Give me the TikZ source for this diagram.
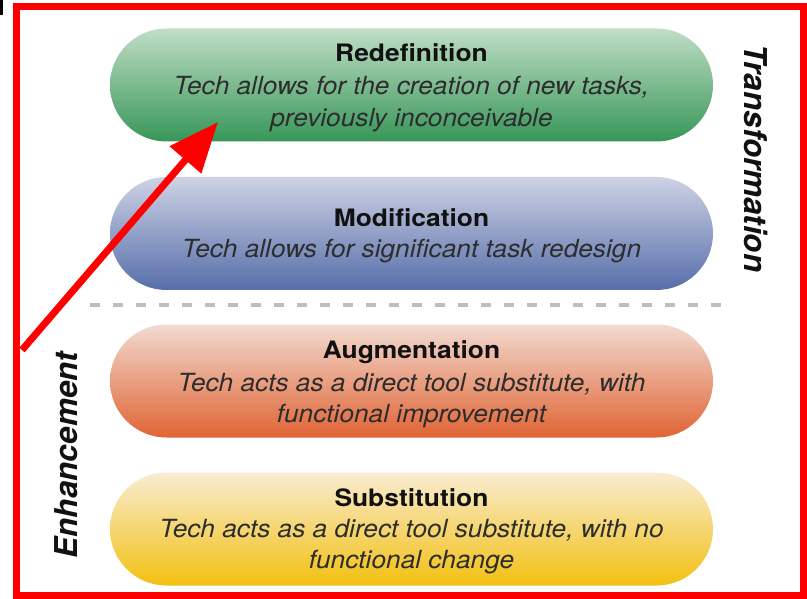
\documentclass[tikz,border=0pt]{standalone}
\usepackage{fontspec}
\usepackage{graphicx}
\setmainfont{TeX Gyre Heros}
\usetikzlibrary{arrows.meta}
\definecolor{framered}{RGB}{255,0,0}
\definecolor{gtop}{RGB}{192,222,198}
\definecolor{gbot}{RGB}{55,150,88}
\definecolor{btop}{RGB}{206,210,228}
\definecolor{bbot}{RGB}{86,110,170}
\definecolor{otop}{RGB}{242,218,208}
\definecolor{obot}{RGB}{224,100,52}
\definecolor{ytop}{RGB}{249,236,210}
\definecolor{ybot}{RGB}{242,192,16}
\definecolor{ttlcol}{RGB}{17,17,17}
\definecolor{bodycol}{RGB}{45,45,45}
\definecolor{dashgray}{RGB}{190,190,190}
\newcommand\wideT[1]{\scalebox{1.10}[1]{#1}}
\newcommand\wideB[1]{\scalebox{1.05}[1]{#1}}
\begin{document}
\begin{tikzpicture}[x=1pt,y=-1pt,
  pill/.style={rectangle, rounded corners=56.5pt, minimum width=603pt, minimum height=113pt, inner sep=0pt, draw=none},
  ttl/.style={anchor=base, inner sep=0pt, text=ttlcol, font=\fontsize{24}{28}\selectfont\bfseries},
  body/.style={anchor=base, inner sep=0pt, text=bodycol, font=\fontsize{25}{30}\selectfont\itshape},
  side/.style={inner sep=0pt, text=ttlcol, font=\fontsize{31.5}{36}\selectfont\bfseries\itshape}]
\useasboundingbox (0,0) rectangle (807,599);
\fill[white] (0,0) rectangle (807,599);
\fill[black] (0,0) rectangle (3,15);
% pills
\node[pill, top color=gtop, bottom color=gbot] (redef) at (411.5,85) {};
\node[pill, top color=btop, bottom color=bbot] (modif) at (411.5,233.5) {};
\node[pill, top color=otop, bottom color=obot] (augm) at (411.5,381) {};
\node[pill, top color=ytop, bottom color=ybot] (subs) at (411.5,529) {};
% texts
\node[ttl] (redefT) at (411.5,62) {\wideT{Redefinition}};
\node[body] (redefA) at (411.5,95) {\wideB{Tech allows for the creation of new tasks,}};
\node[body] (redefB) at (411.5,127) {\wideB{previously inconceivable}};
\node[ttl] (modifT) at (411.5,227) {\wideT{Modification}};
\node[body] (modifA) at (411.5,258) {\wideB{Tech allows for significant task redesign}};
\node[ttl] (augmT) at (411.5,358) {\wideT{Augmentation}};
\node[body] (augmA) at (411.5,391) {\wideB{Tech acts as a direct tool substitute, with}};
\node[body] (augmB) at (411.5,422) {\wideB{functional improvement}};
\node[ttl] (subsT) at (411.5,506) {\wideT{Substitution}};
\node[body] (subsA) at (411.5,537) {\wideB{Tech acts as a direct tool substitute, with no}};
\node[body] (subsB) at (411.5,568) {\wideB{functional change}};
% dashed separator
\coordinate (d0) at (90,305);
\coordinate (d1) at (732,305);
\draw[dashgray, line width=3.5pt, dash pattern=on 10pt off 13pt] (d0) -- (d1);
% side labels
\node[side, rotate=-90] (trans) at (756,158.5) {Transformation};
\node[side, rotate=90] (enh) at (66,455) {Enhancement};
% frame
\draw[framered, line width=7pt] (16.5,6.5) rectangle (803.5,595.5);
% arrow
\coordinate (a0) at (22,350);
\coordinate (a1) at (218,122);
\draw[framered, line width=7pt, -{Triangle[length=50pt,width=40pt]}] (a0) -- (a1);
\end{tikzpicture}
\end{document}
